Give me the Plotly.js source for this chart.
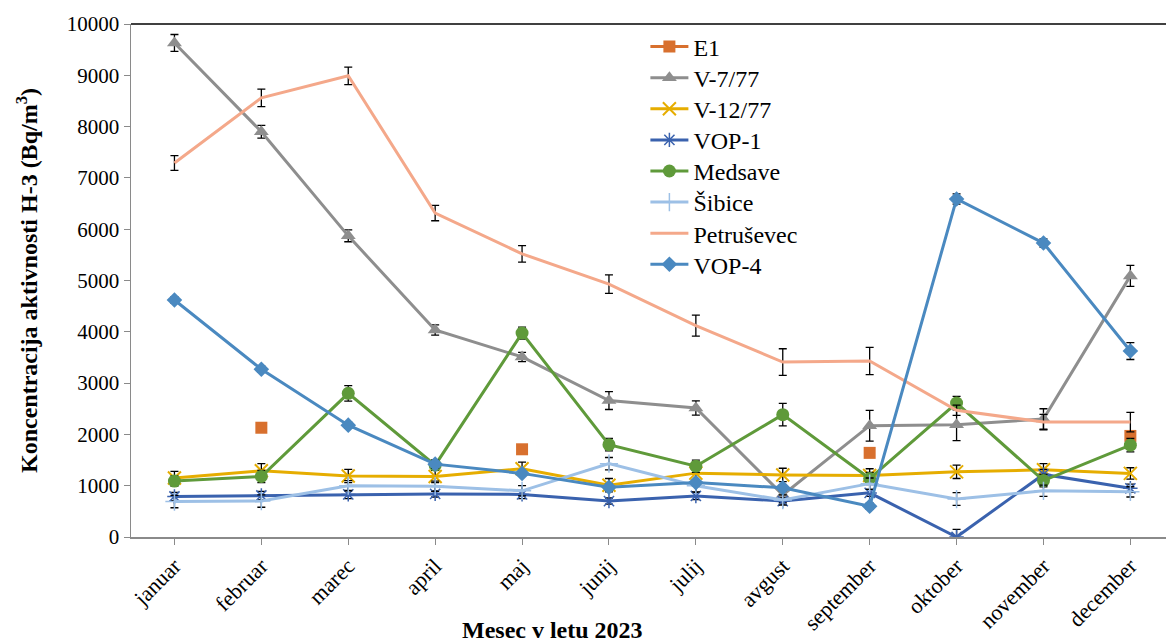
<!DOCTYPE html>
<html>
<head>
<meta charset="utf-8">
<script src="https://cdn.plot.ly/plotly-3.0.1.min.js"></script>
<style>html,body{margin:0;padding:0;background:#fff;}#chart{width:1166px;height:642px;}</style>
</head>
<body>
<div id="chart"></div>
<script>
const months = ["januar","februar","marec","april","maj","junij","julij","avgust","september","oktober","november","december"];

const e1      = [null, 2130, null, null, 1710, null, null, null, 1640, null, null, 1970];
const v777    = [9630, 7900, 5870, 4035, 3510, 2660, 2515, 820, 2170, 2190, 2300, 5090];
const v777Err = [165, 125, 115, 100, 90, 175, 140, 150, 300, 310, 200, 205];
const v1277   = [1150, 1290, 1190, 1180, 1330, 1010, 1245, 1210, 1200, 1270, 1310, 1240];
const v1277Err= [130, 140, 130, 120, 130, 130, 130, 130, 130, 130, 120, 110];
const vop1    = [790, 810, 830, 840, 830, 700, 800, 700, 860, 0, 1220, 950];
const vop1Err = [80, 80, 80, 60, 80, 60, 70, 60, 70, 150, 100, 80];
const medsave = [1090, 1180, 2800, 1400, 3975, 1800, 1380, 2385, 1140, 2610, 1100, 1790];
const medsErr = [100, 120, 150, 100, 115, 120, 120, 220, 120, 130, 120, 130];
const sibice  = [690, 700, 1000, 990, 900, 1430, 1000, 720, 1040, 740, 900, 880];
const sibErr  = [120, 120, 100, 100, 100, 120, 120, 100, 110, 125, 110, 100];
const petr    = [7290, 8560, 8990, 6315, 5520, 4930, 4120, 3410, 3430, 2470, 2240, 2240];
const petrErr = [145, 170, 170, 150, 160, 180, 205, 260, 265, 100, 150, 190];
const vop4    = [4620, 3270, 2180, 1420, 1240, 970, 1060, 960, 600, 6590, 5730, 3625];
const vop4Err = [60, 60, 60, 80, 60, 60, 60, 60, 60, 100, 80, 165];
const yTicks  = [0, 1000, 2000, 3000, 4000, 5000, 6000, 7000, 8000, 9000, 10000];

const idx = months.map((m, i) => i);
function eb(arr){ return {type:'data', array:arr, visible:true, color:'#000', thickness:1.3, width:4}; }

const traces = [
  {name:'E1', x:idx, y:e1, mode:'lines+markers', connectgaps:false,
   line:{color:'#D8702E', width:3}, marker:{symbol:'square', size:12, color:'#D8702E'}},
  {name:'V-7/77', x:idx, y:v777, mode:'lines+markers', error_y:eb(v777Err),
   line:{color:'#8E8E8E', width:3}, marker:{symbol:'triangle-up', size:13, color:'#8E8E8E'}},
  {name:'V-12/77', x:idx, y:v1277, mode:'lines+markers', error_y:eb(v1277Err),
   line:{color:'#E6AD00', width:3}, marker:{symbol:'x-thin-open', size:13, color:'#E6AD00', line:{color:'#E6AD00', width:2}}},
  {name:'VOP-1', x:idx, y:vop1, mode:'lines+markers', error_y:eb(vop1Err),
   line:{color:'#3A62AE', width:3}, marker:{symbol:'asterisk-open', size:12, color:'#3A62AE', line:{color:'#3A62AE', width:1.5}}},
  {name:'Medsave', x:idx, y:medsave, mode:'lines+markers', error_y:eb(medsErr),
   line:{color:'#5F9A3A', width:3}, marker:{symbol:'circle', size:13, color:'#5F9A3A'}},
  {name:'Šibice', x:idx, y:sibice, mode:'lines+markers', error_y:eb(sibErr),
   line:{color:'#9DC0E6', width:3}, marker:{symbol:'cross-thin-open', size:13, color:'#9DC0E6', line:{color:'#9DC0E6', width:1.5}}},
  {name:'Petruševec', x:idx, y:petr, mode:'lines', error_y:eb(petrErr),
   line:{color:'#F4A88A', width:3}},
  {name:'VOP-4', x:idx, y:vop4, mode:'lines+markers', error_y:eb(vop4Err),
   line:{color:'#4A89C0', width:3}, marker:{symbol:'diamond', size:12, color:'#4A89C0'}}
];

const font = 'Liberation Serif';
const layout = {
  width:1166, height:642,
  margin:{l:131, r:0, t:24, b:105},
  paper_bgcolor:'#fff', plot_bgcolor:'#fff',
  font:{family:font, color:'#000'},
  showlegend:true,
  xaxis:{range:[-0.5, 11.41], tickmode:'array', tickvals:idx, ticktext:months,
         showgrid:false, zeroline:false, showline:true, linecolor:'#8a8a8a', linewidth:1.5,
         ticks:'outside', ticklen:6, tickcolor:'#8a8a8a', tickangle:-45, tickson:'boundaries',
         tickfont:{family:font, size:22, color:'#000'}},
  yaxis:{range:[0, 10000], tickmode:'array', tickvals:yTicks, ticktext:yTicks.map(String),
         showgrid:false, zeroline:false, showline:true,
         linecolor:'#8a8a8a', linewidth:1.5, ticks:'outside', ticklen:6, tickcolor:'#8a8a8a',
         tickfont:{family:font, size:21, color:'#000'},
         title:{text:'<b>Koncentracija aktivnosti H-3 (Bq/m<sup>3</sup>)</b>', font:{family:font, size:24, color:'#000'}, standoff:22}},
  shapes:[{type:'line', xref:'paper', yref:'paper', x0:0, x1:1, y0:1, y1:1, line:{color:'#000', width:1.5}}],
  annotations:[{text:'<b>Mesec v letu 2023</b>', xref:'paper', yref:'paper', x:0.407, y:-0.181,
                xanchor:'center', yanchor:'middle', showarrow:false, font:{family:font, size:24, color:'#000'}}]
};
// one legend per trace so the rows keep the reference's spacing
traces.forEach((t, i) => {
  const key = i === 0 ? 'legend' : 'legend' + (i + 1);
  t.legend = key;
  const rowPx = 47 + 31.1 * i;          // row centre in pixels from top
  layout[key] = {x:0.497, y:(537 - rowPx) / 513, xanchor:'left', yanchor:'middle',
                 bgcolor:'rgba(0,0,0,0)', itemwidth:38,
                 font:{family:font, size:24, color:'#000'}};
});
Plotly.newPlot('chart', traces, layout, {displayModeBar:false, staticPlot:true});
</script>
</body>
</html>
